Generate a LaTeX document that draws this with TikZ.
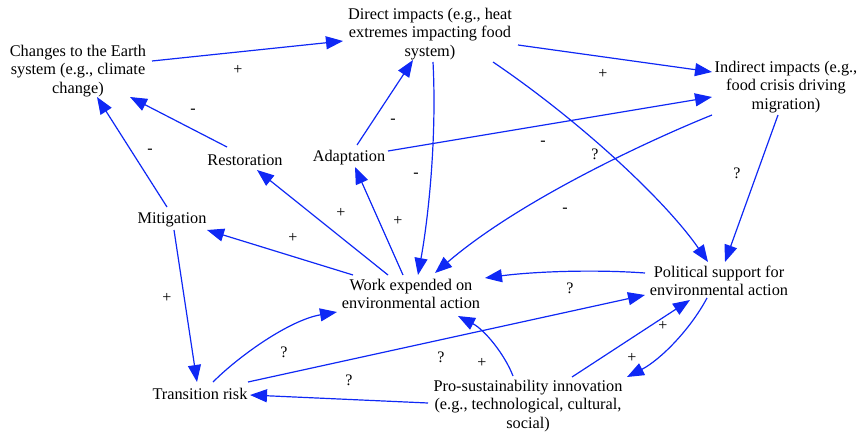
\documentclass[tikz,border=0pt]{standalone}
\usepackage{fontspec}
\setmainfont{Liberation Serif}
\usetikzlibrary{arrows.meta}
\definecolor{edgeblue}{RGB}{15,40,245}
\begin{document}
\begin{tikzpicture}[x=1pt,y=-1pt,
  box/.style={align=center,inner sep=0pt,font=\fontsize{16.3}{18.5}\selectfont},
  lab/.style={inner sep=0pt,font=\fontsize{16}{18}\selectfont},
  conn/.style={draw=edgeblue,line width=1.2pt,-{Triangle[length=17pt,width=13pt]},fill=none}]
\useasboundingbox (0,0) rectangle (857,436);
% nodes
\node[box] (ch) at (78,71) {Changes to the Earth\\system (e.g., climate\\change)};
\node[box] (di) at (430,34) {Direct impacts (e.g., heat\\extremes impacting food\\system)};
\node[box] (in) at (786,87) {Indirect impacts (e.g.,\\food crisis driving\\migration)};
\node[box] (re) at (245,160) {Restoration};
\node[box] (ad) at (349,158) {Adaptation};
\node[box] (mi) at (172,220) {Mitigation};
\node[box] (wo) at (411,294) {Work expended on\\environmental action};
\node[box] (po) at (719,281) {Political support for\\environmental action};
\node[box] (tr) at (200,394) {Transition risk};
\node[box] (pr) at (528,406) {Pro-sustainability innovation\\(e.g., technological, cultural,\\social)};
% connectors
\draw[conn] ([shift={(74,-10)}]ch.center) -- ([shift={(-87,7)}]di.center);
\draw[conn] ([shift={(88,11)}]di.center) -- ([shift={(-74,-15)}]in.center);
\draw[conn] ([shift={(-18,-13)}]re.center) -- ([shift={(52,26)}]ch.center);
\draw[conn] ([shift={(-5,-13)}]mi.center) -- ([shift={(19,26)}]ch.center);
\draw[conn] ([shift={(8,-13)}]ad.center) -- ([shift={(-17,26)}]di.center);
\draw[conn] ([shift={(39,-7)}]ad.center) -- ([shift={(-74,10)}]in.center);
\draw[conn] ([shift={(3,28)}]di.center) .. controls (437,140) and (428,220) .. ([shift={(7,-19)}]wo.center);
\draw[conn] ([shift={(63,28)}]di.center) .. controls (580,121) and (665,200) .. ([shift={(-11,-19)}]po.center);
\draw[conn] ([shift={(-74,28)}]in.center) .. controls (650,140) and (520,200) .. ([shift={(24,-21)}]wo.center);
\draw[conn] ([shift={(-8,28)}]in.center) -- ([shift={(6,-19)}]po.center);
\draw[conn] ([shift={(-23,-19)}]wo.center) -- ([shift={(12,10)}]re.center);
\draw[conn] ([shift={(-8,-19)}]wo.center) -- ([shift={(6,9)}]ad.center);
\draw[conn] ([shift={(-58,-19)}]wo.center) -- ([shift={(35,10)}]mi.center);
\draw[conn] ([shift={(2,10)}]mi.center) -- ([shift={(-3,-12)}]tr.center);
\draw[conn] ([shift={(-74,-8)}]po.center) .. controls (590,269) and (530,272) .. ([shift={(74,-16)}]wo.center);
\draw[conn] ([shift={(13,-12)}]tr.center) .. controls (240,355) and (290,320) .. ([shift={(-74,18)}]wo.center);
\draw[conn] ([shift={(48,-12)}]tr.center) -- ([shift={(-74,14)}]po.center);
\draw[conn] ([shift={(-100,-3)}]pr.center) -- ([shift={(50,1)}]tr.center);
\draw[conn] ([shift={(-15,-30)}]pr.center) .. controls (505,355) and (485,330) .. ([shift={(47,22)}]wo.center);
\draw[conn] ([shift={(44,-29)}]pr.center) -- ([shift={(-29,19)}]po.center);
\draw[conn] ([shift={(-12,17)}]po.center) .. controls (690,330) and (660,360) .. ([shift={(99,-29)}]pr.center);
% labels
\node[lab] (l1) at (238,70) {+};
\node[lab] (l2) at (603,74) {+};
\node[lab] (l3) at (193,111) {-};
\node[lab] (l4) at (150,151) {-};
\node[lab] (l5) at (393,121) {-};
\node[lab] (l6) at (543,143) {-};
\node[lab] (l7) at (416,175) {-};
\node[lab] (l8) at (595,154) {?};
\node[lab] (l9) at (565,210) {-};
\node[lab] (l10) at (737,173) {?};
\node[lab] (l11) at (341,213) {+};
\node[lab] (l12) at (398,221) {+};
\node[lab] (l13) at (293,238) {+};
\node[lab] (l14) at (167,298) {+};
\node[lab] (l15) at (570,288) {?};
\node[lab] (l16) at (284,352) {?};
\node[lab] (l17) at (441,357) {?};
\node[lab] (l18) at (349,380) {?};
\node[lab] (l19) at (482,363) {+};
\node[lab] (l20) at (663,326) {+};
\node[lab] (l21) at (632,358) {+};
\end{tikzpicture}
\end{document}
